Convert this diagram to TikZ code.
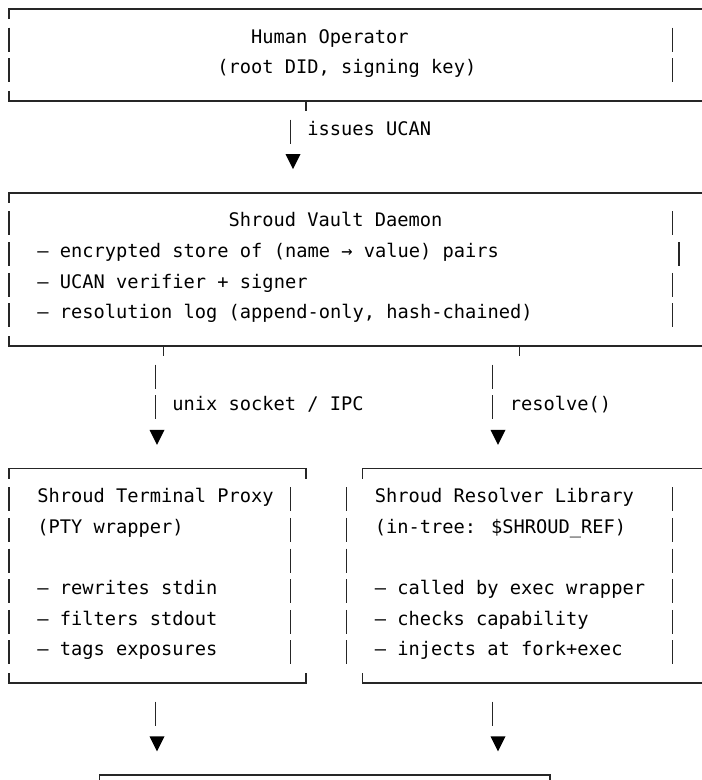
\documentclass[tikz,border=0pt]{standalone}
\usepackage{fontspec}
\newfontfamily\dmono{DejaVu Sans Mono}
\tikzset{
  txt/.style={anchor=base west, inner sep=0pt, font=\dmono\fontsize{18.7}{20}\selectfont, text=black},
  frame/.style={line width=1.4pt, draw=black!85},
  barln/.style={line width=1.3pt, draw=black!85},
  tip/.style={fill=black},
}
\begin{document}
\begin{tikzpicture}[x=1pt,y=-1pt,
  declare function={ry(\k)=9+30.64*\k; cx(\c)=3.4+(\c+0.5)*11.25; tx(\c)=3.4+\c*11.25; bx(\i)=3.4+(\i+0.5)*11.86;}]
\useasboundingbox (0,0) rectangle (702,780);
\clip (0,0) rectangle (702,780);
\newcommand\colbar[2]{\draw[barln] ({#1},{ry(#2)-12}) -- ({#1},{ry(#2)+12});}
\newcommand\downtri[2]{\fill[tip] ({#1-7.5},{ry(#2)-8}) -- ({#1+7.5},{ry(#2)-8}) -- ({#1},{ry(#2)+7}) -- cycle;}

% ---------- Box 1: Human Operator ----------
\draw[frame] ({cx(0)},{ry(0)+10}) -- ({cx(0)},{ry(0)}) -- (706,{ry(0)});
\node[txt] (human) at ({tx(22)},{ry(1)+3.5}) {Human Operator};
\node[txt] (humansub) at ({tx(19)},{ry(2)+3.5}) {(root DID, signing key)};
\foreach \r in {1,2} {\colbar{cx(0)}{\r} \colbar{cx(59)}{\r}}
\draw[frame] ({cx(0)},{ry(3)-10}) -- ({cx(0)},{ry(3)}) -- (706,{ry(3)});
\coordinate (ucanA) at ({bx(25)},{ry(3)});
\draw[frame] (ucanA) -- ++(0,10);

% ---------- connector: issues UCAN ----------
\colbar{cx(25)}{4}
\node[txt] (ucanlbl) at ({tx(27)},{ry(4)+3.5}) {issues UCAN};
\downtri{293}{5}

% ---------- Box 2: Shroud Vault Daemon ----------
\draw[frame] ({cx(0)},{ry(6)+10}) -- ({cx(0)},{ry(6)}) -- (706,{ry(6)});
\node[txt] (vault) at ({tx(20)},{ry(7)+3.5}) {Shroud Vault Daemon};
\node[txt] (v1) at ({tx(3)},{ry(8)+3.5}) {— encrypted store of (name → value) pairs};
\node[txt] (v2) at ({tx(3)},{ry(9)+3.5}) {— UCAN verifier + signer};
\node[txt] (v3) at ({tx(3)},{ry(10)+3.5}) {— resolution log (append-only, hash-chained)};
\foreach \r in {7,8,9,10} {\colbar{cx(0)}{\r}}
\foreach \r in {7,9,10} {\colbar{cx(59)}{\r}}
\colbar{679}{8}
\draw[frame] ({cx(0)},{ry(11)-10}) -- ({cx(0)},{ry(11)}) -- (706,{ry(11)});
\coordinate (ipcA) at ({bx(13)},{ry(11)});
\coordinate (resA) at ({bx(43)},{ry(11)});
\draw[frame] (ipcA) -- ++(0,10);
\draw[frame] (resA) -- ++(0,10);

% ---------- connectors: unix socket / resolve ----------
\foreach \r in {12,13} {\colbar{cx(13)}{\r} \colbar{cx(43)}{\r}}
\node[txt] (ipclbl) at ({tx(15)},{ry(13)+3.5}) {unix socket / IPC};
\node[txt] (reslbl) at ({tx(45)},{ry(13)+3.5}) {resolve()};
\downtri{157}{14}
\downtri{498}{14}

% ---------- Box 3: Terminal Proxy ----------
\draw[frame] ({cx(0)},{ry(15)+10}) -- ({cx(0)},{ry(15)}) -- ({bx(25)},{ry(15)}) -- ({bx(25)},{ry(15)+10});
\node[txt] (proxy) at ({tx(3)},{ry(16)+3.5}) {Shroud Terminal Proxy};
\node[txt] (proxysub) at ({tx(3)},{ry(17)+3.5}) {(PTY wrapper)};
\node[txt] (p1) at ({tx(3)},{ry(19)+3.5}) {— rewrites stdin};
\node[txt] (p2) at ({tx(3)},{ry(20)+3.5}) {— filters stdout};
\node[txt] (p3) at ({tx(3)},{ry(21)+3.5}) {— tags exposures};
\draw[frame] ({cx(0)},{ry(22)-10}) -- ({cx(0)},{ry(22)}) -- ({bx(25)},{ry(22)}) -- ({bx(25)},{ry(22)-10});

% ---------- Box 4: Resolver Library ----------
\draw[frame] (362.7,{ry(15)+10}) -- (362.7,{ry(15)}) -- (706,{ry(15)});
\node[txt] (resolver) at ({tx(33)},{ry(16)+3.5}) {Shroud Resolver Library};
\node[txt] (resolversub) at ({tx(33)},{ry(17)+3.5}) {(in-tree: \$SHROUD\_REF)};
\node[txt] (r1) at ({tx(33)},{ry(19)+3.5}) {— called by exec wrapper};
\node[txt] (r2) at ({tx(33)},{ry(20)+3.5}) {— checks capability};
\node[txt] (r3) at ({tx(33)},{ry(21)+3.5}) {— injects at fork+exec};
\draw[frame] (362.7,{ry(22)-10}) -- (362.7,{ry(22)}) -- (706,{ry(22)});
\foreach \r in {16,...,21} {\colbar{cx(0)}{\r} \colbar{cx(25)}{\r} \colbar{cx(30)}{\r} \colbar{cx(59)}{\r}}

% ---------- lower connectors ----------
\colbar{cx(13)}{23}
\colbar{cx(43)}{23}
\downtri{157}{24}
\downtri{498}{24}

% ---------- bottom box (top edge) ----------
\draw[frame] (99.3,790) -- (99.3,{ry(25)}) -- (550,{ry(25)}) -- (550,790);
\end{tikzpicture}
\end{document}
